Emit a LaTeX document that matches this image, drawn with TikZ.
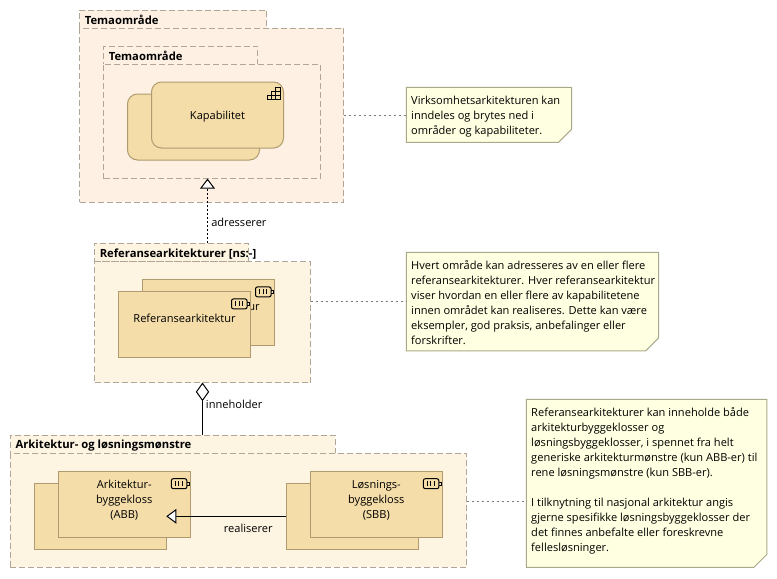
\documentclass[tikz,border=0pt]{standalone}
\usepackage{fontspec}
\setmainfont{Open Sans}
\usetikzlibrary{arrows.meta,positioning}
\definecolor{grpA}{HTML}{FEF0E3}
\definecolor{grpB}{HTML}{FEF4E2}
\definecolor{capfill}{HTML}{F4DDA9}
\definecolor{capline}{HTML}{AF9B6F}
\definecolor{grpline}{HTML}{B0A698}
\definecolor{notefill}{HTML}{FFFFE1}
\definecolor{noteline}{HTML}{A9A98A}
\definecolor{linkgray}{HTML}{7A7A7A}
\newcommand{\plainfont}{\fontsize{8.3pt}{11.25pt}\selectfont}
\newcommand{\grpfont}{\fontsize{8.45pt}{11.25pt}\selectfont\bfseries}
\tikzset{
  grp/.style={draw=grpline, line width=0.75pt, dash pattern=on 4.5pt off 2.25pt, anchor=north west, inner sep=0pt, outer sep=0pt},
  capbox/.style={draw=capline, fill=capfill, line width=0.75pt, anchor=north west, inner sep=0pt, outer sep=0pt, minimum width=99pt, minimum height=49.5pt},
  grplabel/.style={anchor=west, inner sep=0pt, font=\grpfont},
  boxlabel/.style={inner sep=0pt, align=center, font=\plainfont},
  linklabel/.style={inner sep=0pt, font=\plainfont},
  notebox/.style={anchor=north west, inner sep=0pt, outer sep=0pt},
  notetext/.style={anchor=north west, inner sep=0pt, align=left, font=\plainfont},
  noteshape/.style={draw=noteline, fill=notefill, line width=0.75pt},
  notelink/.style={draw=linkgray, line width=0.75pt, dash pattern=on 1.5pt off 2.25pt},
  capicon/.pic={
    \draw[line width=0.75pt] (-16.2,17.3) -- ++(12.7,0) -- ++(0,-12.3) -- ++(-4.2,0) -- ++(0,4.1) -- ++(-4.25,0) -- ++(0,4.1) -- ++(-4.25,0) -- cycle;
    \draw[line width=0.75pt] (-16.2,13.2) -- ++(12.7,0) (-11.95,9.1) -- ++(8.45,0) (-11.95,9.1) -- ++(0,8.2) (-7.7,5) -- ++(0,12.3);
  },
  wpicon/.pic={
    \draw[line width=0.75pt, rounded corners=1.5pt] (-19,7.4) rectangle (-3.4,17.4);
    \draw[line width=0.75pt] (-3.4,10.9) -- ++(2.2,0) -- ++(0,3) -- ++(-2.2,0);
    \foreach \barx in {-15,-11.5,-8} {
      \draw[line width=0.75pt] (\barx,9.9) -- ++(0,5);
    }
  }
}
\begin{document}
\begin{tikzpicture}[x=0.75pt,y=-0.75pt]
  \useasboundingbox (0,0) rectangle (777,578);

  % Temaomrade
  \node[grp, fill=grpA, minimum width=140.6pt, minimum height=13.5pt] (temaouttab) at (79.5,10) {};
  \node[grp, fill=grpA, minimum width=198pt, minimum height=130.5pt] (temaout) at (79.5,28) {};
  \node[grplabel] (temaoutlabel) at ([xshift=3.75pt,yshift=-1pt]temaouttab.west) {Temaområde};
  \node[grp, fill=grpA, minimum width=115.5pt, minimum height=13.5pt] (temaintab) at (103.5,46) {};
  \node[grp, fill=grpA, minimum width=162.4pt, minimum height=85.9pt] (temain) at (103.5,64) {};
  \node[grplabel] (temainlabel) at ([xshift=3.75pt,yshift=-1pt]temaintab.west) {Temaområde};
  \node[capbox, rounded corners=7.5pt] (capback) at (127.5,94) {};
  \node[capbox, rounded corners=7.5pt] (capfront) at (151.5,82) {};
  \node[boxlabel] (caplabel) at ([yshift=-1pt]capfront.center) {Kapabilitet};
  \pic at (capfront.north east) {capicon};

  % Referansearkitekturer
  \node[grp, fill=grpB, minimum width=115.5pt, minimum height=13.9pt] (reftab) at (94.5,243) {};
  \node[grp, fill=grpB, minimum width=162pt, minimum height=90.75pt] (ref) at (94.5,261.5) {};
  \node[grplabel] (reflabel) at ([xshift=3.75pt,yshift=-1pt]reftab.west) {Referansearkitekturer [ns:-]};
  \node[capbox] (refback) at (142.5,279.5) {};
  \node[boxlabel] (refbacklabel) at ([yshift=-20.3pt]refback.north) {Referansearkitektur};
  \pic at (refback.north east) {wpicon};
  \node[capbox] (reffront) at (118.5,291.5) {};
  \node[boxlabel] (reffrontlabel) at ([yshift=-20.3pt]reffront.north) {Referansearkitektur};
  \pic at (reffront.north east) {wpicon};

  % Arkitektur- og losningsmonstre
  \node[grp, fill=grpB, minimum width=243.75pt, minimum height=13.5pt] (arktab) at (10.3,435.3) {};
  \node[grp, fill=grpB, minimum width=342.3pt, minimum height=85.5pt] (ark) at (10.3,453.3) {};
  \node[grplabel] (arklabel) at ([xshift=3.75pt,yshift=-1pt]arktab.west) {Arkitektur- og løsningsmønstre};
  \node[capbox] (abbback) at (34.3,483.3) {};
  \node[capbox] (abbfront) at (58.3,471.3) {};
  \node[boxlabel] (abblabel) at ([yshift=-21.6pt]abbfront.north) {Arkitektur-\\byggekloss\\(ABB)};
  \pic at (abbfront.north east) {wpicon};
  \node[capbox] (sbbback) at (286.3,483.3) {};
  \node[capbox] (sbbfront) at (310.3,471.3) {};
  \node[boxlabel] (sbblabel) at ([yshift=-21.6pt]sbbfront.north) {Løsnings-\\byggekloss\\(SBB)};
  \pic at (sbbfront.north east) {wpicon};

  % relasjoner
  \coordinate (adrtop) at (207.5,178.5);
  \draw[-{Triangle[open, fill=white, length=7.5pt, width=11pt]}, line width=0.75pt, dash pattern=on 1.5pt off 1.5pt] (reftab.north -| adrtop) -- (adrtop);
  \node[linklabel, anchor=west] (adrlabel) at (211,222) {adresserer};
  \draw[{Diamond[open, fill=white, length=14pt, width=10pt]}-, line width=0.75pt] (ref.south) -- (ref.south |- arktab.north);
  \node[linklabel, anchor=west] (innlabel) at (205.7,404) {inneholder};
  \draw[-{Triangle[open, fill=white, length=7.5pt, width=11pt]}, line width=0.75pt] (sbbback.west) -- (abbback.east);
  \node[linklabel] (realabel) at (248.3,528.3) {realiserer};

  % merknader
  \node[notebox, minimum width=124pt, minimum height=41.25pt] (notea) at (406.3,87.3) {};
  \filldraw[noteshape] (notea.north west) -- (notea.north east) -- ([yshift=9.75pt]notea.south east) -- ([xshift=-9.75pt]notea.south east) -- (notea.south west) -- cycle;
  \node[notetext] (noteatext) at ([xshift=3.5pt,yshift=-6.3pt]notea.north west) {Virksomhetsarkitekturen kan\\inndeles og brytes ned i\\områder og kapabiliteter.};

  \node[notebox, minimum width=189.3pt, minimum height=74pt] (noteb) at (406.3,252.3) {};
  \filldraw[noteshape] (noteb.north west) -- (noteb.north east) -- ([yshift=9.75pt]noteb.south east) -- ([xshift=-9.75pt]noteb.south east) -- (noteb.south west) -- cycle;
  \node[notetext] (notebtext) at ([xshift=3.5pt,yshift=-6pt]noteb.north west) {Hvert område kan adresseres av en eller flere\\referansearkitekturer. Hver referansearkitektur\\viser hvordan en eller flere av kapabilitetene\\innen området kan realiseres. Dette kan være\\eksempler, god praksis, anbefalinger eller\\forskrifter.};

  \node[notebox, minimum width=180.5pt, minimum height=126pt] (notec) at (526.3,399.3) {};
  \filldraw[noteshape] (notec.north west) -- (notec.north east) -- ([yshift=9.75pt]notec.south east) -- ([xshift=-9.75pt]notec.south east) -- (notec.south west) -- cycle;
  \node[notetext] (notectext) at ([xshift=3.5pt,yshift=-5.6pt]notec.north west) {Referansearkitekturer kan inneholde både\\arkitekturbyggeklosser og\\løsningsbyggeklosser, i spennet fra helt\\generiske arkitekturmønstre (kun ABB-er) til\\rene løsningsmønstre (kun SBB-er).\\[11.25pt]I tilknytning til nasjonal arkitektur angis\\gjerne spesifikke løsningsbyggeklosser der\\det finnes anbefalte eller foreskrevne\\fellesløsninger.};

  \coordinate (notecin) at (notec.west |- 0,501);
  \draw[notelink] (temaout.east) -- (temaout.east -| notea.west);
  \draw[notelink] (ref.east |- noteb.west) -- (noteb.west);
  \draw[notelink] (ark.east |- notecin) -- (notecin);
\end{tikzpicture}
\end{document}
